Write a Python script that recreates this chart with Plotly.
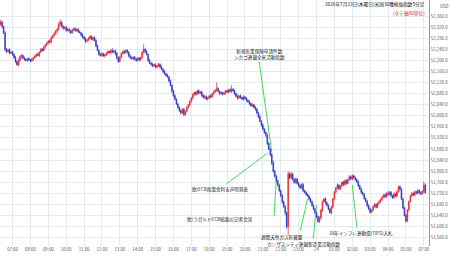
import pandas as pd
import plotly.graph_objects as go

# ---------------- data ----------------
first_open = 52330
close = [
    52338, 52322, 52300, 52240, 52232, 52238, 52226, 52230,
    52222, 52210, 52196, 52184, 52200, 52214, 52218, 52208, 52204, 52200,
    52206, 52202, 52198, 52204, 52210, 52216, 52222, 52218, 52230, 52240,
    52236, 52248, 52256, 52262, 52270, 52266, 52282, 52290, 52296, 52306,
    52312, 52330, 52338, 52322, 52316, 52320, 52308, 52312, 52306, 52300,
    52310, 52314, 52308, 52312, 52304, 52300, 52292, 52284, 52278, 52270,
    52274, 52280, 52286, 52276, 52282, 52272, 52252, 52236, 52222, 52218,
    52224, 52216, 52220, 52226, 52232, 52228, 52236, 52230, 52234, 52226,
    52208, 52196, 52212, 52224, 52232, 52228, 52236, 52230, 52216, 52210,
    52206, 52212, 52204, 52200, 52208, 52202, 52210, 52228, 52240, 52232,
    52222, 52200, 52190, 52186, 52180, 52184, 52176, 52180, 52186, 52176,
    52168, 52160, 52152, 52146, 52140, 52126, 52110, 52090, 52072, 52060,
    52042, 52030, 52018, 52010, 52024, 52004, 52016, 52030, 52040, 52052,
    52064, 52076, 52084, 52078, 52090, 52082, 52086, 52074, 52066, 52070,
    52060, 52064, 52072, 52068, 52080, 52086, 52092, 52098, 52088, 52080,
    52084, 52078, 52082, 52090, 52086, 52094, 52088, 52096, 52090, 52080,
    52070, 52064, 52072, 52066, 52060, 52068, 52062, 52056, 52050, 52044,
    52036, 52040, 52030, 52024, 52010, 51996, 51980, 51966, 51952, 51940,
    51930, 51900, 51880, 51860, 51830, 51800, 51782, 51766, 51750, 51730,
    51712, 51690, 51672, 51650, 51600, 51790, 51776, 51790, 51770, 51760,
    51772, 51756, 51748, 51740, 51752, 51730, 51724, 51716, 51710, 51700,
    51690, 51676, 51664, 51650, 51636, 51618, 51630, 51660, 51690, 51700,
    51686, 51676, 51664, 51650, 51670, 51700, 51724, 51740, 51750, 51736,
    51746, 51760, 51752, 51766, 51756, 51770, 51780, 51772, 51784, 51776,
    51770, 51762, 51748, 51736, 51724, 51716, 51702, 51690, 51676, 51664,
    51652, 51660, 51672, 51680, 51670, 51684, 51690, 51698, 51706, 51714,
    51708, 51720, 51716, 51724, 51712, 51704, 51718, 51710, 51726, 51744,
    51736, 51700, 51668, 51640, 51620, 51660, 51690, 51712, 51720, 51714,
    51726, 51720, 51730, 51722, 51718, 51728, 51750, 51722,
]
wick_hi = [
    8, 6, 4, 6, 5, 4, 6, 3, 5, 4,  6, 3, 8, 4, 5, 3, 6, 4, 3, 5,
    4, 6, 3, 5, 4, 6, 3, 5, 4, 6,  3, 5, 4, 6, 5, 3, 6, 4, 5, 8,
    10, 4, 6, 3, 5, 4, 6, 3, 5, 4, 6, 3, 5, 4, 3, 6, 4, 5, 3, 4,
    6, 5, 3, 6, 4, 5, 3, 4, 6, 3,  5, 4, 6, 3, 5, 8, 4, 5, 3, 6,
    4, 5, 3, 6, 4, 5, 3, 6, 4, 5,  3, 6, 4, 5, 3, 6, 18, 4, 5, 3,
    6, 4, 5, 3, 6, 4, 5, 3, 6, 4,  5, 3, 6, 4, 5, 3, 4, 6, 3, 5,
    4, 6, 3, 5, 4, 6, 3, 5, 4, 6,  3, 5, 4, 6, 3, 5, 4, 6, 3, 5,
    4, 6, 3, 5, 4, 22, 6, 4, 5, 3, 6, 4, 5, 3, 6, 14, 4, 5, 3, 6,
    4, 5, 3, 6, 4, 5, 3, 6, 4, 5,  3, 6, 4, 5, 8, 4, 6, 5, 4, 6,
    5, 4, 6, 8, 5, 6, 4, 5, 3, 6,  4, 5, 3, 10, 6, 8, 4, 6, 5, 4,
    6, 5, 4, 6, 3, 5, 4, 6, 5, 4,  5, 4, 6, 3, 8, 4, 5, 3, 6, 4,
    5, 3, 6, 4, 5, 3, 6, 4, 5, 3,  6, 4, 5, 3, 6, 4, 5, 3, 6, 4,
    5, 3, 6, 4, 5, 3, 6, 4, 5, 3,  6, 4, 5, 3, 6, 4, 5, 3, 6, 4,
    8, 4, 5, 3, 6, 4, 5, 3, 6, 4,  5, 3, 6, 4, 5, 3, 6, 4, 5, 3,
    6, 4, 5, 3, 12, 6,
]
wick_lo = [
    4, 6, 5, 8, 6, 4, 5, 3, 6, 4,  5, 3, 6, 4, 8, 4, 5, 3, 6, 4,
    5, 3, 6, 4, 5, 3, 6, 4, 5, 3,  6, 4, 5, 3, 6, 4, 5, 3, 6, 4,
    5, 3, 6, 4, 5, 3, 6, 4, 5, 3,  6, 4, 5, 3, 6, 4, 5, 8, 6, 4,
    5, 3, 6, 4, 5, 3, 6, 4, 5, 3,  6, 4, 5, 3, 6, 4, 5, 8, 4, 5,
    3, 6, 4, 5, 3, 6, 4, 5, 3, 6,  4, 5, 3, 6, 4, 5, 3, 6, 4, 5,
    3, 6, 4, 5, 3, 6, 4, 5, 3, 6,  4, 5, 3, 6, 4, 8, 4, 5, 3, 6,
    4, 5, 3, 6, 4, 5, 3, 6, 4, 5,  3, 6, 4, 5, 3, 6, 4, 5, 3, 6,
    4, 5, 3, 6, 4, 5, 3, 6, 4, 5,  3, 6, 4, 5, 3, 6, 4, 5, 3, 6,
    4, 5, 3, 6, 4, 5, 3, 6, 4, 5,  3, 6, 4, 5, 3, 6, 4, 5, 8, 6,
    5, 6, 8, 5, 6, 8, 6, 5, 6, 8,  6, 10, 8, 30, 6, 5, 4, 6, 5, 4,
    6, 5, 4, 6, 3, 5, 4, 6, 5, 4,  5, 4, 6, 3, 5, 4, 8, 3, 6, 4,
    5, 3, 6, 4, 5, 3, 6, 4, 5, 3,  6, 4, 5, 3, 6, 4, 5, 3, 6, 4,
    5, 3, 6, 4, 5, 3, 6, 4, 5, 3,  6, 4, 5, 3, 6, 4, 5, 3, 6, 4,
    5, 3, 6, 4, 5, 3, 6, 4, 8, 4,  5, 3, 6, 4, 5, 3, 6, 4, 5, 3,
    6, 4, 5, 3, 6, 4,
]

tick_times = [
    "2026-07-23 07:00", "2026-07-23 08:00", "2026-07-23 09:00", "2026-07-23 10:00",
    "2026-07-23 11:00", "2026-07-23 12:00", "2026-07-23 13:00", "2026-07-23 14:00",
    "2026-07-23 15:00", "2026-07-23 16:00", "2026-07-23 17:00", "2026-07-23 18:00",
    "2026-07-23 19:00", "2026-07-23 20:00", "2026-07-23 21:00", "2026-07-23 22:00",
    "2026-07-23 23:00", "2026-07-24 00:00", "2026-07-24 01:00", "2026-07-24 02:00",
    "2026-07-24 03:00", "2026-07-24 04:00", "2026-07-24 05:00", "2026-07-24 07:00",
]
tick_labels = [
    "07:00", "08:00", "09:00", "10:00", "11:00", "12:00", "13:00", "14:00",
    "15:00", "16:00", "17:00", "18:00", "19:00", "20:00", "21:00", "22:00",
    "23:00", "24", "01:00", "02:00", "03:00", "04:00", "05:00", "07:00",
]
price_ticks = [51560, 51600, 51640, 51680, 51720, 51760, 51800, 51840, 51880,
               51920, 51960, 52000, 52040, 52080, 52120, 52160, 52200, 52240,
               52280, 52320, 52360]

event_times = ["2026-07-23 21:30", "2026-07-23 21:15", "2026-07-23 21:45",
               "2026-07-23 23:30", "2026-07-24 00:00", "2026-07-24 02:00"]
event_prices = [51869, 51865, 51765, 51700, 51678, 51750]
event_texts = ["新規失業保険申請件数<br>シカゴ連銀全米活動指数",
               "欧)ECB政策金利＆声明発表",
               "欧)ラガルドECB総裁の記者会見",
               "週間天然ガス貯蔵量",
               "カンザスシティ連銀製造業活動指数",
               "10年インフレ連動債(TIPS)入札"]

title_text = "2026年7月23日(木曜日)米国30種株価指数5分足"
sub_text = "(タテ軸80単位)"

# ---------------- build ----------------
rng = pd.date_range("2026-07-23 05:20", "2026-07-24 07:05", freq="5min")
rng = [t for t in rng if t.hour != 6]
times = [t.strftime("%Y-%m-%d %H:%M") for t in rng]

opens = [first_open] + close[:-1]
highs = [max(o, c) + w for o, c, w in zip(opens, close, wick_hi)]
lows = [min(o, c) - w for o, c, w in zip(opens, close, wick_lo)]

RED = "#e5262b"
BLUE = "#2b33c9"
GREEN = "#33d14a"
FONT = "Noto Sans CJK JP"

fig = go.Figure()
fig.add_trace(go.Candlestick(
    x=times, open=opens, high=highs, low=lows, close=close,
    increasing=dict(line=dict(color=RED, width=0.7), fillcolor=RED),
    decreasing=dict(line=dict(color=BLUE, width=0.7), fillcolor=BLUE),
    whiskerwidth=0, showlegend=False, hoverinfo="skip",
))

# event label styling: line start (category idx, price) and text centre (paper)
ev_line_start = [(173.4, 52201), (150.6, 51750), (183.5, 51634),
                 (200.9, 51580), (209.7, 51551), (239.2, 51591)]
ev_text_pos = [(0.606, 0.780), (0.513, 0.228), (0.513, 0.106),
               (0.657, 0.035), (0.709, 0.008), (0.841, 0.049)]
idx = {t: k for k, t in enumerate(times)}
for t, p, txt, (sx, sy), (tx, ty) in zip(event_times, event_prices, event_texts,
                                         ev_line_start, ev_text_pos):
    fig.add_annotation(x=idx[t], y=p, xref="x", yref="y", text="", showarrow=True,
                       axref="x", ayref="y", ax=sx, ay=sy, arrowhead=0,
                       arrowwidth=0.9, arrowcolor=GREEN, standoff=0, startstandoff=0)
    fig.add_annotation(x=tx, y=ty, xref="paper", yref="paper", text=txt,
                       showarrow=False, xanchor="center", yanchor="middle",
                       font=dict(family=FONT, size=4.6, color="#222"))

fig.add_annotation(x=0.995, y=0.98, xref="paper", yref="paper", text=title_text,
                   showarrow=False, xanchor="right", yanchor="middle",
                   font=dict(family=FONT, size=4.7, color="#111"))
fig.add_annotation(x=0.995, y=0.947, xref="paper", yref="paper", text=sub_text,
                   showarrow=False, xanchor="right", yanchor="middle",
                   font=dict(family=FONT, size=4.7, color="#e02020"))
fig.add_annotation(x=1.02, y=0.976, xref="paper", yref="paper", text="USD",
                   showarrow=False, xanchor="left", yanchor="middle",
                   font=dict(family=FONT, size=4.3, color="#444"))

fig.update_layout(
    template="none",
    width=450, height=258,
    margin=dict(l=0, r=21, t=0, b=12),
    paper_bgcolor="white", plot_bgcolor="white",
    xaxis=dict(type="category", range=[-0.4, 287.5], rangeslider=dict(visible=False),
               tickvals=tick_times, ticktext=tick_labels, showgrid=True,
               gridcolor="#e3eaf0", gridwidth=1, showline=False, zeroline=False,
               ticks="", tickfont=dict(family=FONT, size=4.3, color="#555"),
               automargin=False),
    yaxis=dict(side="right", range=[51530, 52418], tickvals=price_ticks,
               tickformat=",.1f", showgrid=True, gridcolor="#e3eaf0", gridwidth=1,
               showline=True, linecolor="#9a9a9a", linewidth=1, zeroline=False,
               ticks="", tickfont=dict(family=FONT, size=4.3, color="#555"),
               automargin=False),
)

fig.write_html("out.html")
